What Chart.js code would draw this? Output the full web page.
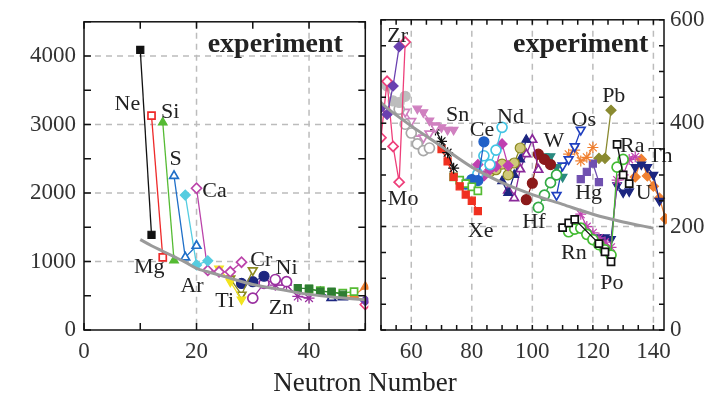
<!DOCTYPE html>
<html lang="en">
<head>
<meta charset="UTF-8">
<title>Neutron Number</title>
<script src="https://cdn.jsdelivr.net/npm/chart.js"></script>
<style>
    body { margin: 0; background: #fff; width: 725px; height: 397px; position: relative; overflow: hidden; font-family: "Liberation Serif", serif; }
    #left { position: absolute; left: 0; top: 0; }
    #right { position: absolute; left: 372px; top: 0; }
    #xtitle { position: absolute; left: 365px; top: 382px; transform: translate(-50%, -50%); font-size: 27px; color: #222; white-space: nowrap; }
</style>
</head>
<body>
<canvas id="left" width="372" height="397"></canvas>
<canvas id="right" width="353" height="397"></canvas>
<div id="xtitle">Neutron Number</div>

<script>
// systematic trend (grey curve)
const curveN = [10, 12, 14, 16, 18, 20, 22, 25, 30, 35, 40, 45, 50, 58, 70, 80, 90, 100, 110, 120, 130, 140];
const curveE = [1320, 1230, 1150, 1070, 990, 900, 850, 780, 665, 590, 520, 475, 440, 403, 355, 315, 285, 262, 243, 224, 209, 197];

// isotope chains: [neutron number, value]
const Ne = [[10, 4090], [12, 1390]];
const Mg = [[12, 3130], [14, 1060]];
const Si = [[14, 3030], [16, 1015]];
const S  = [[16, 2250], [18, 1060], [20, 1230]];
const Ar = [[18, 1970], [20, 950], [22, 1010]];
const Ca = [[20, 2070], [22, 870], [24, 850], [26, 850], [28, 990]];
const Ti = [[24, 895], [26, 705], [28, 445]];
const Cr = [[26, 750], [28, 515], [30, 870]];
const Fe = [[28, 680], [30, 705], [32, 785]];
const Ni = [[30, 465], [32, 680], [34, 737], [36, 705]];
const Zn = [[34, 655], [36, 655], [38, 490], [40, 465]];
const Ge = [[38, 610], [40, 605], [42, 560], [44, 560], [46, 515]];
const Se = [[40, 595], [42, 575], [44, 550], [46, 540], [48, 560]];
const Kr = [[42, 547], [44, 470], [46, 480]];
const Sr = [[46, 490], [48, 505], [50, 633]];
const Zr = [[50, 430], [52, 417], [54, 472], [56, 548]];
const Mo = [[50, 372], [52, 481], [54, 355], [56, 286], [58, 557]];
const Ru = [[52, 472], [54, 443], [56, 440], [58, 452]];
const Pd = [[56, 427], [58, 398], [60, 381], [62, 360], [64, 347], [66, 352]];
const Cd = [[58, 422], [60, 404], [62, 370], [64, 372], [66, 380], [68, 392]];
const Te = [[62, 428], [64, 421], [66, 405], [68, 396], [70, 392], [72, 387], [74, 387]];
const Sn = [[68, 387], [70, 365], [72, 343], [74, 313]];
const Xe = [[70, 350], [72, 326], [74, 296], [76, 278], [78, 262], [80, 250], [82, 230]];
const Ba = [[74, 296], [76, 290], [78, 283], [80, 277], [82, 269]];
const Ce = [[78, 282], [80, 291], [82, 289], [84, 364]];
const Nd = [[82, 302], [84, 337], [86, 320], [88, 348], [90, 392]];
const Sm = [[82, 320], [84, 298], [86, 310], [88, 316], [90, 360], [92, 318]];
const Gd = [[86, 306], [88, 310], [90, 321], [92, 300], [94, 323], [96, 352]];
const Dy = [[90, 288], [92, 265], [94, 300], [96, 330], [98, 368]];
const Er = [[92, 270], [94, 255], [96, 311], [98, 340], [100, 368], [102, 310]];
const Yb = [[98, 252], [100, 284], [102, 340], [104, 330], [106, 320]];
const Hf = [[102, 237], [104, 261], [106, 285], [108, 300]];
const W  = [[104, 336], [106, 336], [108, 315], [110, 296]];
const Os = [[108, 261], [110, 318], [112, 330], [114, 355], [116, 387]];
const Pt = [[112, 340], [114, 348], [116, 327], [118, 334], [120, 353]];
const Hg = [[116, 292], [118, 306], [120, 322], [122, 286]];
const Pb = [[122, 332], [124, 332], [126, 425]];
const Rn = [[110, 198], [112, 207], [114, 214], [122, 167], [124, 151], [126, 132]];
const Ra = [[128, 359], [130, 300], [132, 283]];
const Po = [[112, 190], [114, 195], [116, 197], [118, 185], [120, 175], [122, 165], [124, 155], [126, 145], [128, 315], [130, 330]];
const Rb = [[116, 224], [118, 200], [120, 188], [122, 178], [124, 170], [126, 160], [128, 290], [130, 300], [132, 330], [134, 335]];
const U  = [[122, 179], [124, 179], [126, 176], [128, 280], [130, 266], [132, 268], [134, 315], [136, 320], [138, 315], [140, 300], [142, 250]];
const Th = [[134, 296], [136, 330], [138, 298], [140, 278], [142, 255], [144, 215]];

// marker styles: [data, colour, pointStyle, open?, rotation]
const series = [
    [Ne, '#111111', 'rect', false, 0],
    [Mg, '#ee2a2a', 'rect', true, 0],
    [Si, '#55bb33', 'triangle', false, 0],
    [S,  '#1f6fc8', 'triangle', true, 0],
    [Ar, '#55cce0', 'rectRot', false, 0],
    [Ca, '#bb44aa', 'rectRot', true, 0],
    [Ti, '#f2e41e', 'triangle', false, 180],
    [Cr, '#8c8a22', 'triangle', true, 180],
    [Fe, '#1c2680', 'circle', false, 0],
    [Ni, '#9a30a0', 'circle', true, 0],
    [Zn, '#9a30a0', 'star', false, 0],
    [Ge, '#2e7d32', 'rect', false, 0],
    [Se, '#55bb33', 'rect', true, 0],
    [Kr, '#1c2680', 'triangle', true, 0],
    [Sr, '#f08030', 'triangle', false, 0],
    [Zr, '#6a40b0', 'rectRot', false, 0],
    [Mo, '#ee3f7a', 'rectRot', true, 0],
    [Ru, '#bdbdbd', 'circle', false, 0],
    [Pd, '#a8a8a8', 'circle', true, 0],
    [Cd, '#d080c0', 'triangle', true, 180],
    [Te, '#d080c0', 'triangle', false, 180],
    [Sn, '#111111', 'star', false, 0],
    [Xe, '#f03020', 'rect', false, 0],
    [Ba, '#55bb33', 'rect', true, 0],
    [Ce, '#2060c8', 'circle', false, 0],
    [Nd, '#44c4e4', 'circle', true, 0],
    [Sm, '#c040b0', 'rectRot', false, 0],
    [Gd, '#8c8a22', 'circle', 'pattern', 0],
    [Dy, '#1c2680', 'triangle', false, 0],
    [Er, '#8a2a9a', 'triangle', true, 0],
    [Yb, '#8b1a1a', 'circle', false, 0],
    [Hf, '#33aa44', 'circle', true, 0],
    [W,  '#2a8a80', 'triangle', false, 180],
    [Os, '#2040c0', 'triangle', true, 180],
    [Pt, '#f08030', 'star', false, 0],
    [Hg, '#7050b0', 'rect', false, 0],
    [Pb, '#8a8a30', 'rectRot', false, 0],
    [Rn, '#111111', 'rect', true, 0],
    [Ra, '#111111', 'rect', true, 0],
    [Po, '#44bb33', 'circle', true, 0],
    [Rb, '#c040b0', 'star', false, 0],
    [U,  '#1c2680', 'triangle', false, 180],
    [Th, '#f08030', 'rectRot', false, 0]
];

const leftLabels = [
    ['Ne', 7.7, 3300], ['Si', 15.3, 3180], ['S', 16.3, 2500], ['Ca', 23.2, 2030],
    ['Mg', 11.6, 920], ['Ar', 19.2, 635], ['Ti', 25.0, 420], ['Cr', 31.5, 1015],
    ['Ni', 36.0, 905], ['Zn', 35.0, 325]
];
const rightLabels = [
    ['Zr', 55.5, 569], ['Mo', 57.3, 253], ['Sn', 75.3, 415], ['Ce', 83.4, 387],
    ['Nd', 92.8, 412], ['Xe', 82.9, 192], ['Hf', 100.5, 208], ['W', 107.1, 365],
    ['Os', 117.0, 406], ['Pb', 126.9, 453], ['Ra', 133.0, 355], ['Th', 142.3, 336],
    ['Hg', 118.6, 264], ['U', 136.8, 264], ['Rn', 113.7, 148], ['Po', 126.3, 91]
];

function makeDatasets(clip) {
    const sets = [{
        data: curveN.map((n, i) => ({ x: n, y: curveE[i] })),
        borderColor: '#9a9a9a', borderWidth: 3, pointRadius: 0, showLine: true,
        cubicInterpolationMode: 'monotone', clip: 0
    }];
    series.forEach(([pts, col, style, open, rot]) => {
        sets.push({
            data: pts.map(p => ({ x: p[0], y: p[1] })),
            showLine: true,
            borderColor: col,
            borderWidth: 1.3,
            pointStyle: style,
            pointRotation: rot,
            pointRadius: style === 'star' ? 5.5 : 5,
            pointBorderColor: col,
            pointBorderWidth: open === true ? 1.7 : 1.2,
            pointBackgroundColor: open === true ? '#ffffff' : (open === 'pattern' ? '#cfc878' : col),
            clip: clip
        });
    });
    return sets;
}

const deco = {
    id: 'deco',
    beforeDatasetsDraw(chart, args, o) {
        const { ctx, chartArea: a, scales: { x, y } } = chart;
        ctx.save();
        ctx.strokeStyle = '#bcbcbc';
        ctx.lineWidth = 1.5;
        ctx.setLineDash([6, 5]);
        ctx.beginPath();
        o.xGrid.forEach(v => { const p = x.getPixelForValue(v); ctx.moveTo(p, a.top); ctx.lineTo(p, a.bottom); });
        o.yGrid.forEach(v => { const p = y.getPixelForValue(v); ctx.moveTo(a.left, p); ctx.lineTo(a.right, p); });
        ctx.stroke();
        ctx.restore();
    },
    afterDatasetsDraw(chart, args, o) {
        const { ctx, chartArea: a, scales: { x, y } } = chart;
        ctx.save();
        // element labels
        ctx.fillStyle = '#222';
        ctx.textAlign = 'center';
        ctx.textBaseline = 'middle';
        ctx.font = '22px "Liberation Serif"';
        o.labels.forEach(([t, vx, vy]) => ctx.fillText(t, x.getPixelForValue(vx), y.getPixelForValue(vy)));
        ctx.font = 'bold 28px "Liberation Serif"';
        ctx.fillText('experiment', x.getPixelForValue(o.title[0]), y.getPixelForValue(o.title[1]));
        // frame and inward ticks
        ctx.strokeStyle = '#111';
        ctx.lineWidth = 1.5;
        ctx.strokeRect(a.left, a.top, a.right - a.left, a.bottom - a.top);
        ctx.beginPath();
        for (let v = Math.ceil(x.min / o.xStep) * o.xStep; v <= x.max; v += o.xStep) {
            const p = x.getPixelForValue(v);
            ctx.moveTo(p, a.bottom); ctx.lineTo(p, a.bottom - o.tick);
            ctx.moveTo(p, a.top); ctx.lineTo(p, a.top + o.tick);
        }
        for (let v = Math.ceil(y.min / o.yStep) * o.yStep; v <= y.max; v += o.yStep) {
            const p = y.getPixelForValue(v);
            ctx.moveTo(a.left, p); ctx.lineTo(a.left + o.tick, p);
            ctx.moveTo(a.right, p); ctx.lineTo(a.right - o.tick, p);
        }
        ctx.stroke();
        ctx.restore();
    }
};

const tickFont = { family: '"Liberation Serif"', size: 23 };

function axis(min, max, values, extra) {
    return Object.assign({
        type: 'linear', min: min, max: max,
        grid: { display: false, drawTicks: false },
        border: { display: false },
        afterBuildTicks: s => { s.ticks = values.map(v => ({ value: v })); }
    }, extra);
}

new Chart(document.getElementById('left'), {
    type: 'scatter',
    data: { datasets: makeDatasets({ left: 0, top: 0, right: 3, bottom: 0 }) },
    options: {
        responsive: false,
        animation: false,
        layout: { padding: { top: 14, right: 3, left: 0, bottom: 0 } },
        plugins: {
            legend: { display: false },
            tooltip: { enabled: false },
            deco: { xGrid: [20, 40], yGrid: [1000, 2000, 3000, 4000], xStep: 10, yStep: 500, tick: 7,
                    labels: leftLabels, title: [34, 4160] }
        },
        scales: {
            x: axis(0, 50, [0, 20, 40], { position: 'bottom', afterFit: s => { s.height = 67; },
                ticks: { font: tickFont, color: '#333', padding: 8, maxRotation: 0, callback: v => String(v) } }),
            y: axis(0, 4500, [0, 1000, 2000, 3000, 4000], { position: 'left', afterFit: s => { s.width = 84; },
                ticks: { font: tickFont, color: '#333', padding: 8, callback: v => String(v) } })
        }
    },
    plugins: [deco]
});

new Chart(document.getElementById('right'), {
    type: 'scatter',
    data: { datasets: makeDatasets({ left: 0, top: 0, right: 3, bottom: 0 }) },
    options: {
        responsive: false,
        animation: false,
        layout: { padding: { top: 14, right: 0, left: 9, bottom: 0 } },
        plugins: {
            legend: { display: false },
            tooltip: { enabled: false },
            deco: { xGrid: [60, 80, 100, 120, 140], yGrid: [200, 400], xStep: 5, yStep: 50, tick: 5,
                    labels: rightLabels, title: [116, 551] }
        },
        scales: {
            x: axis(50, 143.5, [60, 80, 100, 120, 140], { position: 'bottom', afterFit: s => { s.height = 67; },
                ticks: { font: tickFont, color: '#333', padding: 8, maxRotation: 0, callback: v => String(v) } }),
            y: axis(0, 600, [0, 200, 400, 600], { position: 'right', afterFit: s => { s.width = 61; },
                ticks: { font: tickFont, color: '#333', padding: 6, callback: v => String(v) } })
        }
    },
    plugins: [deco]
});
</script>
</body>
</html>
